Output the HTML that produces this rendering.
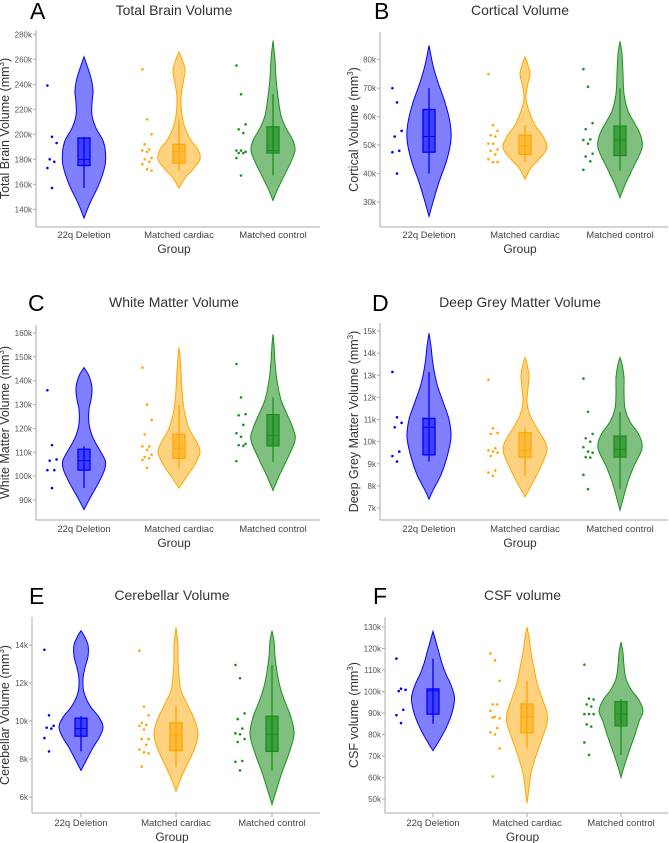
<!DOCTYPE html>
<html><head><meta charset="utf-8">
<style>
html,body{margin:0;padding:0;background:#fff;}
svg{display:block;font-family:"Liberation Sans","DejaVu Sans",sans-serif;}
</style></head>
<body>
<svg id="chart" width="669" height="843" viewBox="0 0 669 843" xmlns="http://www.w3.org/2000/svg"></svg>
<script>
// ---- data (values in thousands of mm^3) ----
const groups = ["22q Deletion", "Matched cardiac", "Matched control"];
const panelTitles = ["Total Brain Volume","Cortical Volume","White Matter Volume","Deep Grey Matter Volume","Cerebellar Volume","CSF volume"];
const panelLetters = ["A","B","C","D","E","F"];
const yTitles = ["Total Brain Volume","Cortical Volume","White Matter Volume","Deep Grey Matter Volume","Cerebellar Volume","CSF volume"];
const tickA = [140,160,180,200,220,240,260,280];
const tickB = [30,40,50,60,70,80];
const tickC = [90,100,110,120,130,140,150,160];
const tickD = [7,8,9,10,11,12,13,14,15];
const tickE = [6,8,10,12,14];
const tickF = [50,60,70,80,90,100,110,120,130];

// points per panel per group
const ptsA = [[239,198,193,180,178,173,157],[252,212,200,192,188,187,186,181,180,178,176,172,171],[255,232,208,204,201,187,187,186,185,185,181,167]];
const ptsB = [[70,65,55,53,48,47.5,40],[75,57,55,53.5,53,50.5,50.5,48.5,48,46.7,45,44,44],[76.7,70.5,57.7,55.6,52,51.8,50.5,47,46,44.3,41.3]];
const ptsC = [[136,113,107,106.5,102.5,102.5,95],[145.5,130,123.5,117.5,112.5,112.5,111,109,108,107.5,106.8,103.5],[147,133,126,125.5,121.5,118,116.5,113.5,113,112.7,106.3]];
const ptsD = [[13.15,11.1,10.85,10.65,9.55,9.35,9.1],[12.8,10.6,10.4,10.35,9.7,9.6,9.55,9.5,9.35,8.7,8.6,8.45],[12.85,11.35,10.35,10.15,10,9.75,9.55,9.5,9.3,9.28,8.5,7.85]];
const ptsE = [[13.75,10.3,9.75,9.65,9.6,9.1,8.4],[13.7,10.75,10.3,9.9,9.8,9.75,9.55,9.05,9.05,8.75,8.5,8.35,8.3,7.6],[12.95,12.25,10.4,10.1,9.6,9.35,9.3,9.05,8.9,7.9,7.85,7.4]];
const ptsF = [[115.3,101.3,100.8,100.2,91.5,89,85.3],[117.7,114.5,105,94,94,91,88.3,87.5,87.8,83,81,80,73.5,60.5],[112.5,96.7,96.3,94,93,89.5,89.5,89.5,84.7,83.7,76.3,70.5]];

// box stats: [whiskerLow, q1, median, q3, whiskerHigh]
const boxA = [[157,175,180,197,198],[171,177,186,192,212],[167,185,187,206,232]];
const boxB = [[40,47.5,53,62.5,70],[44,46.7,49.7,53.5,57],[41,46.3,51.8,56.7,70]];
const boxC = [[95,102.5,106.5,111.3,112.5],[103.5,107.5,111.7,117.5,130],[106,112.7,117,125.8,133]];
const boxD = [[9.1,9.4,10.65,11.05,13.15],[8.45,9.3,9.6,10.4,10.6],[7.85,9.3,9.65,10.25,11.35]];
const boxE = [[8.4,9.2,9.6,10.15,10.25],[7.6,8.45,9.25,9.9,10.75],[7.4,8.4,9.3,10.25,12.95]];
const boxF = [[85,89.5,100.3,101.2,115.3],[73.5,80.7,88.3,94.2,105],[70.5,84,89.5,95.3,96.5]];

// violin density profiles: [value, relative density 0..22]
const vioA = [
 [[133,0],[145,6],[160,15],[175,21],[185,21.5],[195,19],[205,12],[215,8],[225,8],[235,9],[245,7],[255,3],[262,0]],
 [[157,0],[165,6],[172,14],[180,21],[188,19],[195,12],[205,6],[215,3],[230,2],[245,5],[252,6],[260,3],[266,0]],
 [[147,0],[155,4],[165,10],[178,18],[187,22],[195,20],[205,13],[215,8],[230,5],[245,3],[260,2],[275,0]]];
const vioB = [
 [[25,0],[30,4],[37,10],[45,18],[52,22],[58,21],[65,16],[72,9],[78,4],[85,0]],
 [[38,0],[42,6],[45,14],[49,22],[53,18],[57,10],[62,4],[66,1],[70,2],[75,5],[78,3],[81,0]],
 [[31.5,0],[36,5],[42,13],[49,22],[54,20],[58,14],[62,8],[68,4],[75,3],[82,2],[86.5,0]]];
const vioC = [
 [[86,0],[90,5],[96,13],[102,20],[106,21.5],[110,17],[116,9],[122,5],[128,5],[132,7],[137,8],[142,5],[145.5,0]],
 [[95,0],[100,8],[105,16],[110,21],[114,18],[120,10],[128,5],[136,3],[144,2],[150,1],[154,0]],
 [[94,0],[100,6],[107,14],[115,22],[120,20],[126,14],[132,8],[140,4],[148,2],[155,1],[159.5,0]]];
const vioD = [
 [[7.4,0],[7.8,4],[8.5,12],[9.3,18],[10.2,22],[11,20],[11.8,14],[12.6,8],[13.5,4],[14.3,2],[14.9,0]],
 [[7.5,0],[8,6],[8.6,13],[9.2,19],[9.6,22],[10,20],[10.6,12],[11.2,5],[11.8,2],[12.4,3],[13,4],[13.5,2],[13.8,0]],
 [[6.9,0],[7.4,3],[8.2,8],[8.9,14],[9.7,22],[10.3,19],[10.9,10],[11.5,5],[12.2,4],[12.9,4],[13.5,2],[13.8,0]]];
const vioE = [
 [[7.4,0],[8,6],[8.6,12],[9.2,19],[9.7,22],[10.2,18],[10.8,9],[11.5,3],[12.2,2],[12.8,4],[13.4,7],[14,7],[14.5,3],[14.75,0]],
 [[6.3,0],[7,5],[7.8,12],[8.6,19],[9.3,22],[10,19],[10.8,12],[11.6,5],[12.4,3],[13.2,2],[14,2],[14.5,1],[14.95,0]],
 [[5.6,0],[6.3,4],[7.3,10],[8.3,17],[9.3,22],[10.2,19],[11,13],[11.8,8],[12.6,5],[13.4,3],[14.2,2],[14.75,0]]];
const vioF = [
 [[72.5,0],[77,6],[83,13],[90,19],[97,21.5],[103,18],[108,13],[113,9],[118,6],[123,3],[128,0]],
 [[48,0],[55,2],[62,4],[70,9],[78,15],[85,20],[90,20],[97,15],[104,10],[111,7],[118,4],[125,2],[130,0]],
 [[60,0],[65,3],[72,8],[80,14],[86,18],[91,22],[96,18],[101,10],[106,5],[112,3],[118,2],[123,0]]];

const ticksAll = [tickA,tickB,tickC,tickD,tickE,tickF];
const ptsAll = [ptsA,ptsB,ptsC,ptsD,ptsE,ptsF];
const boxAll = [boxA,boxB,boxC,boxD,boxE,boxF];
const vioAll = [vioA,vioB,vioC,vioD,vioE,vioF];

// ---- layout ----
const layout = [
 {ox:0,  axX:36, axTop:30, axB:227, axR:320, v0:140, y0:209.3, v1:280, y1:34.3, cx:[84,179,273], titleY:15, letterX:30, letterY:19, ytx:9, catY:238, grpY:253, xticks:false},
 {ox:335,axX:380,axTop:32, axB:227, axR:668, v0:30, y0:202, v1:80, y1:59.7, cx:[429,525,620], titleY:15, letterX:374, letterY:19, ytx:358, catY:238, grpY:253, xticks:false},
 {ox:0,  axX:36, axTop:325,axB:520, axR:320, v0:90, y0:500, v1:160, y1:333, cx:[84,179,273], titleY:307, letterX:28, letterY:311, ytx:9, catY:532, grpY:547, xticks:false},
 {ox:335,axX:380,axTop:323,axB:520, axR:668, v0:7, y0:508, v1:15, y1:331, cx:[429,525,620], titleY:307, letterX:372, letterY:311, ytx:358, catY:532, grpY:547, xticks:false},
 {ox:0,  axX:32, axTop:617,axB:813, axR:320, v0:6, y0:797, v1:14, y1:645, cx:[81,176,272], titleY:600, letterX:29, letterY:604, ytx:9, catY:826, grpY:841, xticks:true},
 {ox:335,axX:385,axTop:617,axB:813, axR:668, v0:50, y0:799, v1:130, y1:627, cx:[433,527,621], titleY:600, letterX:373, letterY:604, ytx:358, catY:826, grpY:841, xticks:true}
];
const stroke = ["#0000ff","#ffa500","#1f8f1f"];
const fill = ["rgba(0,0,255,0.5)","rgba(255,165,0,0.5)","rgba(0,128,0,0.5)"];
const NS = "http://www.w3.org/2000/svg";
const svg = document.getElementById("chart");
function mk(tag, attrs, parent){ const e=document.createElementNS(NS,tag); for(const k in attrs) e.setAttribute(k,attrs[k]); (parent||svg).appendChild(e); return e; }

function smoothPath(pts){
  let d = "M"+pts[0][0].toFixed(2)+","+pts[0][1].toFixed(2);
  for(let i=0;i<pts.length-1;i++){
    const p0=pts[Math.max(0,i-1)], p1=pts[i], p2=pts[i+1], p3=pts[Math.min(pts.length-1,i+2)];
    const c1=[p1[0]+(p2[0]-p0[0])/6, p1[1]+(p2[1]-p0[1])/6];
    const c2=[p2[0]-(p3[0]-p1[0])/6, p2[1]-(p3[1]-p1[1])/6];
    d+=" C"+c1[0].toFixed(2)+","+c1[1].toFixed(2)+" "+c2[0].toFixed(2)+","+c2[1].toFixed(2)+" "+p2[0].toFixed(2)+","+p2[1].toFixed(2);
  }
  return d;
}

layout.forEach((L, pi) => {
  const g = mk("g",{});
  
  
  const yS = v => L.y0 + (v - L.v0) * (L.y1 - L.y0) / (L.v1 - L.v0);
  const plotMid = (L.axX + L.axR)/2;

  const letter = mk("text",{x:L.letterX,y:L.letterY,"font-size":23,fill:"#000"},g);
  letter.textContent = panelLetters[pi];
  
  

  const title = mk("text",{x:plotMid-4,y:L.titleY,"font-size":14,fill:"#333","text-anchor":"middle"},g);
  title.textContent = panelTitles[pi];
  
  

  const ya = mk("line",{x1:L.axX,y1:L.axTop,x2:L.axX,y2:L.axB,stroke:"#aaa","stroke-width":1},g);
  
  
  const xa = mk("line",{x1:L.axX,y1:L.axB,x2:L.axR,y2:L.axB,stroke:"#aaa","stroke-width":1},g);
  
  

  ticksAll[pi].forEach(t => {
    const y = yS(t);
    const tl = mk("line",{x1:L.axX-3,y1:y,x2:L.axX,y2:y,stroke:"#aaa","stroke-width":1},g);
    
    
    const tx = mk("text",{x:L.axX-4,y:y+3,"font-size":8,fill:"#555","text-anchor":"end"},g);
    tx.textContent = t+"k";
    
    
  });

  const yt = mk("text",{x:L.ytx,y:(L.axTop+L.axB)/2,"font-size":12.5,fill:"#333","text-anchor":"middle",transform:"rotate(-90 "+L.ytx+" "+((L.axTop+L.axB)/2)+")"},g);
  yt.innerHTML = yTitles[pi]+' (mm<tspan dy="-5" font-size="8">3</tspan><tspan dy="5">)</tspan>';
  
  

  groups.forEach((gName, gi) => {
    const cx = L.cx[gi];
    if (L.xticks){
      const xt = mk("line",{x1:cx,y1:L.axB,x2:cx,y2:L.axB+4,stroke:"#aaa","stroke-width":1},g);
      
      
    }
    const cl = mk("text",{x:cx,y:L.catY,"font-size":9.5,fill:"#444","text-anchor":"middle"},g);
    cl.textContent = gName;
    
    

    const prof = vioAll[pi][gi];
    const right = prof.map(p => [cx + p[1], yS(p[0])]);
    const left = prof.slice().reverse().map(p => [cx - p[1], yS(p[0])]);
    const d = smoothPath(right) + " " + smoothPath(left).replace(/^M/,"L") + " Z";
    const vp = mk("path",{d:d,fill:fill[gi],stroke:stroke[gi],"stroke-width":1},g);
    
    

    const b = boxAll[pi][gi];
    const wl = mk("line",{x1:cx,y1:yS(b[0]),x2:cx,y2:yS(b[4]),stroke:stroke[gi],"stroke-width":1.3},g);
    
    
    const br = mk("rect",{x:cx-6,y:yS(b[3]),width:12,height:yS(b[1])-yS(b[3]),fill:fill[gi],stroke:stroke[gi],"stroke-width":1.3},g);
    
    
    const ml = mk("line",{x1:cx-6,y1:yS(b[2]),x2:cx+6,y2:yS(b[2]),stroke:stroke[gi],"stroke-width":1},g);
    
    

    ptsAll[pi][gi].forEach((v, i) => {
      const off = -32 + (((i*7)%5) - 2) * 2.3;
      const c = mk("circle",{cx:cx+off,cy:yS(v),r:1.3,fill:stroke[gi]},g);
      
      
    });
  });

  const gt = mk("text",{x:plotMid-4,y:L.grpY,"font-size":12,fill:"#333","text-anchor":"middle"},g);
  gt.textContent = "Group";
  
  
});
</script>
</body></html>
